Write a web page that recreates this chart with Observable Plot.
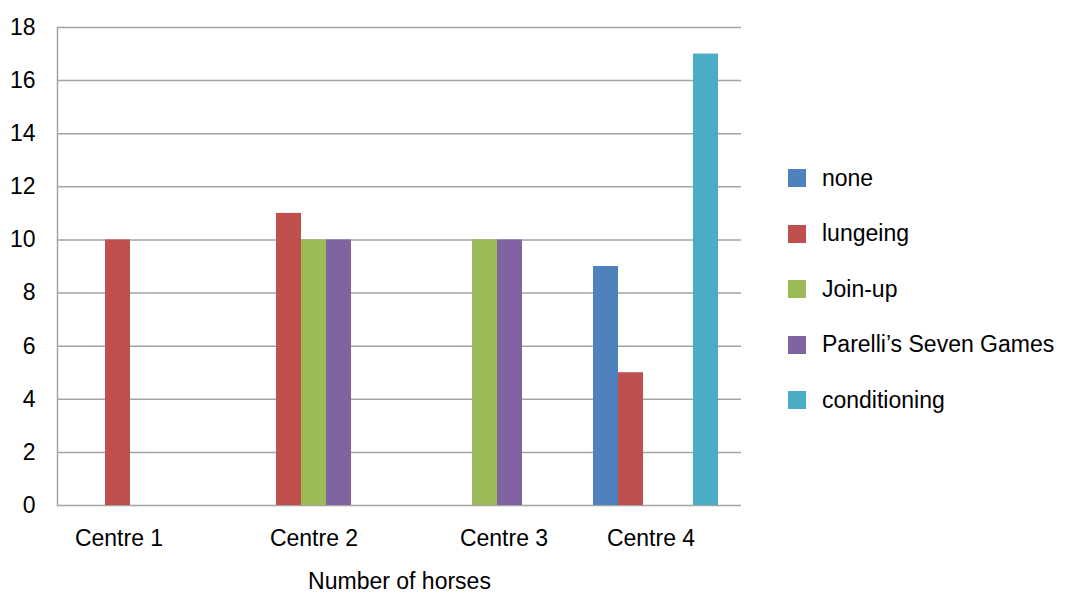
<!DOCTYPE html>
<html>
<head>
<meta charset="utf-8">
<script src="https://cdn.jsdelivr.net/npm/d3@7"></script>
<script src="https://cdn.jsdelivr.net/npm/@observablehq/plot@0.6"></script>
<style>
  html, body { margin: 0; padding: 0; background: #fff; }
  #wrap { position: relative; width: 1071px; height: 594px; font-family: "Liberation Sans", Arial, sans-serif; }
  #chart { position: absolute; left: 0; top: 0; }
  #legend { position: absolute; left: 788px; top: 0; }
  .item { position: absolute; left: 0; display: flex; align-items: center; height: 30px; white-space: nowrap; font-size: 23px; color: #000; }
  .sw { width: 18px; height: 18px; margin-right: 16px; flex: none; }
</style>
</head>
<body>
<div id="wrap">
  <div id="chart"></div>
  <div id="legend"></div>
</div>
<script>
// Training methods used per centre (number of horses)
const centres = ["Centre 1", "Centre 2", "Centre 3", "Centre 4"];
const methods = ["none", "lungeing", "Join-up", "Parelli’s Seven Games", "conditioning"];
const none = [0, 0, 0, 9];
const lungeing = [10, 11, 0, 5];
const joinUp = [0, 10, 10, 0];
const parelli = [0, 10, 10, 0];
const conditioning = [0, 0, 0, 17];
const yTicks = [0, 2, 4, 6, 8, 10, 12, 14, 16, 18];
const axisTitle = "Number of horses";

const colors = ["#4f81bd", "#c0504d", "#9bbb59", "#8064a2", "#4bacc6"];
const series = [none, lungeing, joinUp, parelli, conditioning];

// long-format rows; empty categories are simply not drawn
const rows = [];
centres.forEach((c, i) => {
  methods.forEach((m, j) => {
    if (series[j][i] > 0) rows.push({centre: c, method: m, value: series[j][i]});
  });
});

// horizontal nudges for the category labels under each group
const labelNudge = [-24, 0, 19, -5];

const grey = "#a3a3a3";

const chart = Plot.plot({
  width: 770,
  height: 594,
  marginLeft: 57,
  marginRight: 29,
  marginTop: 27,
  marginBottom: 89,
  style: {fontFamily: "'Liberation Sans', Arial, sans-serif", fontSize: "23px", color: "#000", background: "#fff"},
  fx: {domain: centres, padding: 0, axis: null},
  x: {domain: methods, paddingInner: 0, paddingOuter: 0.79, axis: null},
  y: {domain: [0, 18], label: null},
  color: {domain: methods, range: colors},
  marks: [
    Plot.gridY(yTicks, {stroke: grey, strokeOpacity: 1, strokeWidth: 1.5}),
    Plot.barY(rows, {fx: "centre", x: "method", y: "value", fill: "method"}),
    Plot.frame({anchor: "left", facetAnchor: "left", stroke: grey, strokeWidth: 1.5}),
    Plot.axisY({ticks: yTicks, tickSize: 0, tickPadding: 22, fontSize: 23, label: null}),
    ...centres.map((c, i) => Plot.text([c], {
      fx: d => d, text: d => d, frameAnchor: "bottom", dy: 40, dx: labelNudge[i], fontSize: 23, fill: "#000"
    })),
    Plot.axisFx({anchor: "bottom", ticks: [], label: axisTitle, labelAnchor: "center", labelOffset: 83, tickSize: 0, fontSize: 23})
  ]
});
document.getElementById("chart").append(chart);

// legend on the right, one row every 55.5px starting at y = 178
const legend = document.getElementById("legend");
methods.forEach((m, j) => {
  const row = document.createElement("div");
  row.className = "item";
  row.style.top = (178 + 55.5 * j - 15) + "px";
  const sw = document.createElement("span");
  sw.className = "sw";
  sw.style.background = colors[j];
  const tx = document.createElement("span");
  tx.textContent = m;
  row.append(sw, tx);
  legend.append(row);
});
</script>
</body>
</html>
